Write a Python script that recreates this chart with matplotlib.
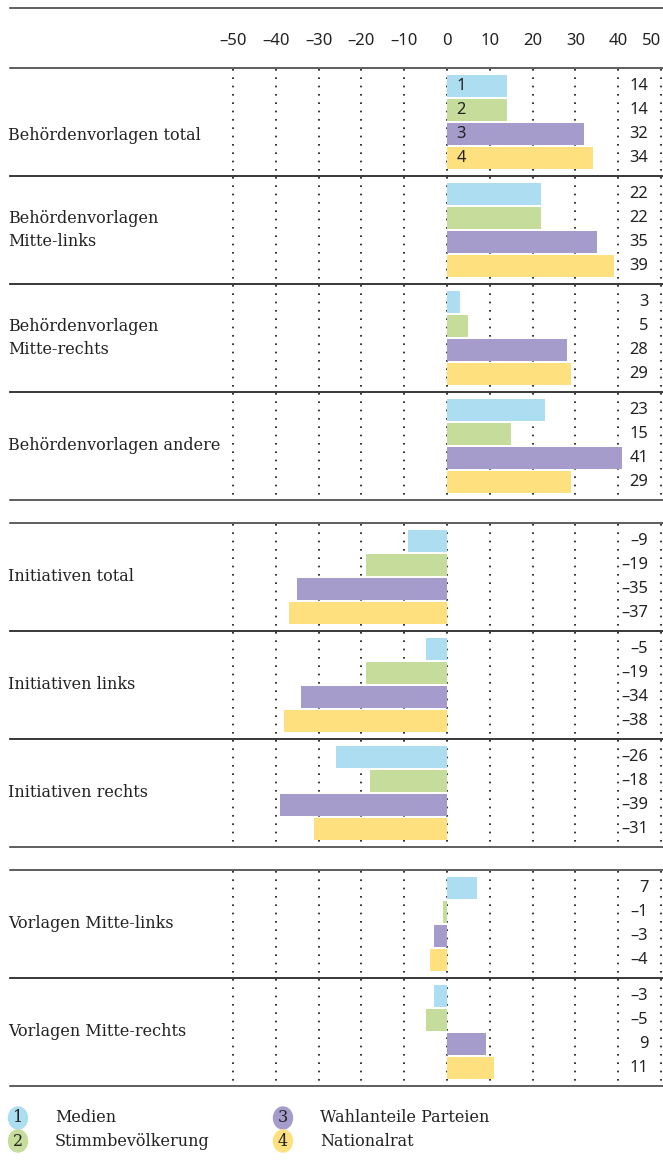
import matplotlib
matplotlib.use("Agg")
import matplotlib.pyplot as plt
from matplotlib.transforms import blended_transform_factory
from matplotlib.patches import Ellipse
from matplotlib.lines import Line2D

categories = ["Behördenvorlagen total", "Behördenvorlagen\nMitte-links",
              "Behördenvorlagen\nMitte-rechts", "Behördenvorlagen andere",
              "Initiativen total", "Initiativen links", "Initiativen rechts",
              "Vorlagen Mitte-links", "Vorlagen Mitte-rechts"]
sections = [[0, 1, 2, 3], [4, 5, 6], [7, 8]]
series_names = ["Medien", "Stimmbevölkerung", "Wahlanteile Parteien", "Nationalrat"]
medien = [14, 22, 3, 23, -9, -5, -26, 7, -3]
stimm = [14, 22, 5, 15, -19, -19, -18, -1, -5]
wahl = [32, 35, 28, 41, -35, -34, -39, -3, 9]
nat = [34, 39, 29, 29, -37, -38, -31, -4, 11]
series = [medien, stimm, wahl, nat]
colors = ["#ADDDF0", "#C5DC9B", "#A69CCC", "#FEE07F"]
xticks = [-50, -40, -30, -20, -10, 0, 10, 20, 30, 40, 50]
xtick_labels = ["–50", "–40", "–30", "–20", "–10", "0", "10", "20", "30", "40", "50"]

W, H = 663, 1168
fig = plt.figure(figsize=(W / 100, H / 100), dpi=100)
top_px, bot_px = 68, 1087
left_px, right_px = 233, 661
ax = fig.add_axes([left_px / W, 1 - bot_px / H, (right_px - left_px) / W, (bot_px - top_px) / H])
ax.set_xlim(-50, 50)
ax.set_ylim(bot_px, top_px)
for s in ax.spines.values():
    s.set_visible(False)
ax.set_yticks([])
ax.xaxis.tick_top()
ax.set_xticks(xticks)
ax.set_xticklabels(xtick_labels, fontsize=12, family="Noto Sans", color="#222222")
ax.tick_params(axis="x", length=0, pad=14)
last = ax.get_xticklabels()[-1]
last.set_horizontalalignment("right")

SANS = "Noto Sans"
SERIF = "DejaVu Serif"
NUM_FS = 11.8
TXT_FS = 11.5
line_col = "#333333"
group_h, gap = 108, 23
bar_step, bar_h = 24, 22.5

trans_fx = blended_transform_factory(fig.transFigure, ax.transData)

# group positions
group_tops = []
y = top_px
for si, sec in enumerate(sections):
    for gi in sec:
        group_tops.append(y)
        y += group_h
    y += gap

# horizontal lines
for sec in sections:
    for gi in sec:
        for yy in (group_tops[gi], group_tops[gi] + group_h):
            ax.plot([10 / W, 1.0], [yy, yy], transform=trans_fx, color=line_col,
                    lw=1.1, clip_on=False, zorder=4)
fig.add_artist(Line2D([10 / W, 1.0], [1 - 8 / H, 1 - 8 / H], color=line_col, lw=1.1))

# dotted grid per group
for gi in range(len(categories)):
    t = group_tops[gi]
    for xv in xticks:
        ax.plot([xv, xv], [t + 1, t + group_h], color="#111111", lw=1.2,
                ls=(0, (1, 4)), zorder=1, clip_on=False)

# bars
for gi in range(len(categories)):
    t = group_tops[gi]
    for k, vals in enumerate(series):
        yc = t + 18 + k * bar_step
        ax.barh(yc, vals[gi], height=bar_h, color=colors[k], zorder=2, linewidth=0)
        v = vals[gi]
        lab = f"–{abs(v)}" if v < 0 else f"{v}"
        ax.text(47, yc, lab, ha="right", va="center", fontsize=NUM_FS, family=SANS,
                color="#222222", zorder=5)
        if gi == 0:
            ax.text(2.2, yc, str(k + 1), ha="left", va="center", fontsize=NUM_FS,
                    family=SANS, color="#222222", zorder=5)
    ly = t + group_h / 2 + (13 if gi == 0 else 0)
    ax.text(8 / W, ly, categories[gi], transform=trans_fx, ha="left", va="center",
            fontsize=TXT_FS, family=SERIF, color="#222222", linespacing=1.45)

# legend
leg_pos = [(18, 1118), (18, 1141), (283, 1118), (283, 1141)]
for k, name in enumerate(series_names):
    cx, cy = leg_pos[k]
    e = Ellipse((cx / W, 1 - cy / H), 19 / W, 22 / H, transform=fig.transFigure,
                color=colors[k], zorder=3)
    fig.add_artist(e)
    fig.text(cx / W, 1 - cy / H, str(k + 1), ha="center", va="center",
             fontsize=TXT_FS, family=SERIF, color="#222222")
    fig.text((cx + 37) / W, 1 - cy / H, name, ha="left", va="center",
             fontsize=TXT_FS, family=SERIF, color="#222222")

fig.savefig("out.png", dpi=100, facecolor="white")
